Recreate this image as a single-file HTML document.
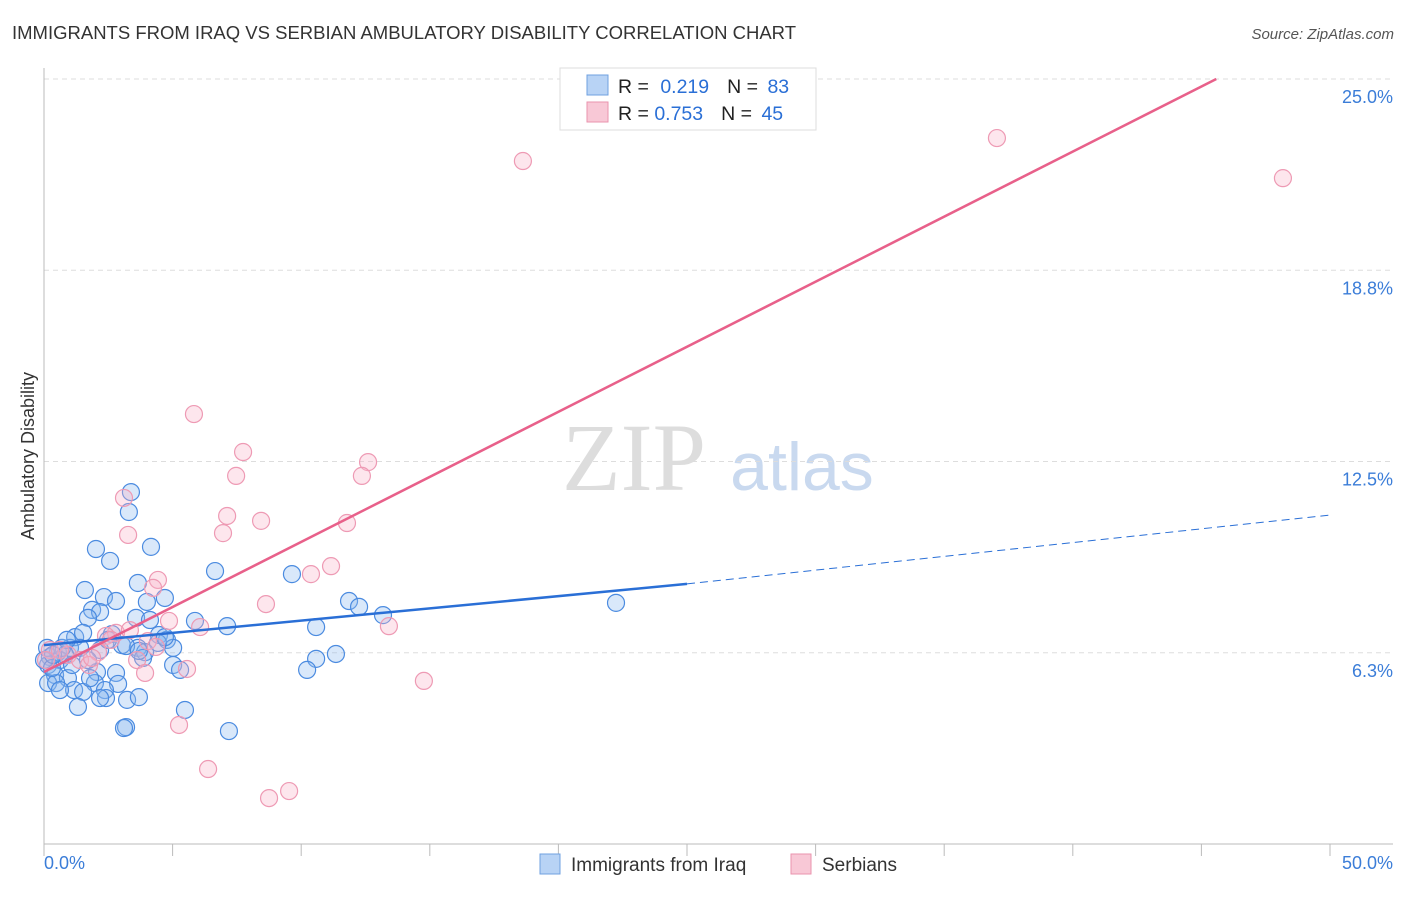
<!DOCTYPE html>
<html><head><meta charset="utf-8"><style>
body{margin:0;background:#fff;font-family:"Liberation Sans",sans-serif}
svg text{font-family:"Liberation Sans",sans-serif}
</style></head><body>
<svg id="chart" width="1406" height="892" viewBox="0 0 1406 892">
<text x="12" y="39" font-size="18.5" fill="#333">IMMIGRANTS FROM IRAQ VS SERBIAN AMBULATORY DISABILITY CORRELATION CHART</text>
<text x="1394" y="39" font-size="15" fill="#555" font-style="italic" text-anchor="end">Source: ZipAtlas.com</text>
<g>
<text x="634" y="490" font-size="96" fill="#ddd" text-anchor="middle" font-family="Liberation Serif" style="font-family:'Liberation Serif',serif">ZIP</text>
<text x="802" y="490" font-size="68" fill="#c9d9ef" text-anchor="middle">atlas</text>
</g>
<g id="grid"></g>
<g id="axes"></g>
<g id="points"></g>
<g id="lines"></g>
<text transform="translate(34,456) rotate(-90)" font-size="18" fill="#333" text-anchor="middle">Ambulatory Disability</text>
<g>
<rect x="560" y="68" width="256" height="62" fill="#fff" stroke="#ddd"/>
<rect x="587" y="75" width="21" height="20" fill="#b8d3f5" stroke="#6fa0e0"/>
<rect x="587" y="102" width="21" height="20" fill="#f8c8d6" stroke="#ea93ae"/>
<text x="618" y="93" font-size="19.5" fill="#222">R = <tspan fill="#2a6fd6" dx="6">0.219</tspan><tspan dx="18" fill="#222">N = </tspan><tspan fill="#2a6fd6" dx="4">83</tspan></text>
<text x="618" y="120" font-size="19.5" fill="#222">R = <tspan fill="#2a6fd6">0.753</tspan><tspan dx="18" fill="#222">N = </tspan><tspan fill="#2a6fd6" dx="4">45</tspan></text>
</g>
<g>
<rect x="540" y="854" width="20" height="20" fill="#b8d3f5" stroke="#6fa0e0"/>
<text x="571" y="871" font-size="19" fill="#333">Immigrants from Iraq</text>
<rect x="791" y="854" width="20" height="20" fill="#f8c8d6" stroke="#ea93ae"/>
<text x="822" y="871" font-size="19" fill="#333">Serbians</text>
</g>
</svg>
<script>
const xTickLabels=["0.0%","50.0%"];
const yTickValues=[25,18.75,12.5,6.25];
const yTickLabels=["25.0%","18.8%","12.5%","6.3%"];
const iraqX=[3.38,3.30,2.02,2.57,4.16,6.65,9.64,1.59,3.65,2.33,2.80,4.00,4.70,1.87,2.18,1.71,3.58,5.87,7.12,10.58,11.86,12.25,13.18,22.24,1.21,1.52,2.64,3.03,3.65,4.47,4.78,5.02,4.43,4.70,1.01,1.40,2.18,0.54,0.82,0.23,0.62,0.16,3.93,3.85,10.58,11.35,10.23,5.02,5.29,2.06,2.80,0.43,0.93,0.16,0.47,1.98,2.88,1.17,1.52,2.37,2.41,2.18,3.23,3.69,1.32,5.48,3.19,3.11,7.19,0.0,0.31,1.71,0.70,3.19,3.69,0.12,0.35,1.09,1.79,0.62,4.12,2.49,0.89];
const iraqY=[11.50,10.85,9.64,9.25,9.71,8.92,8.82,8.30,8.53,8.07,7.94,7.91,8.04,7.65,7.58,7.39,7.39,7.29,7.12,7.09,7.94,7.75,7.48,7.88,6.76,6.90,6.86,6.50,6.41,6.83,6.67,6.41,6.57,6.76,6.41,6.41,6.34,6.27,6.18,6.11,6.01,5.85,6.27,6.08,6.05,6.21,5.69,5.85,5.69,5.62,5.59,5.52,5.42,5.26,5.26,5.26,5.23,5.03,4.97,5.03,4.77,4.77,4.71,4.80,4.48,4.38,3.82,3.79,3.69,6.01,5.75,6.01,6.41,6.47,6.31,6.41,6.18,5.85,5.42,5.03,7.32,6.67,6.67];
const serbX=[18.62,37.05,48.17,26.13,5.83,7.74,7.47,12.60,12.36,3.11,7.12,8.44,3.27,6.96,11.78,4.43,4.24,11.16,10.38,8.63,4.86,6.07,13.41,2.80,3.34,4.04,4.35,2.10,3.62,5.56,3.93,0.93,1.40,0.23,0.62,1.75,14.77,5.25,6.38,8.75,9.53,2.41,2.60,1.87,0.08];
const serbY=[22.32,23.07,21.76,24.67,14.05,12.81,12.03,12.48,12.03,11.31,10.72,10.56,10.10,10.16,10.49,8.63,8.37,9.08,8.82,7.84,7.29,7.09,7.12,6.90,6.99,6.63,6.44,6.27,6.01,5.72,5.59,6.18,6.01,6.34,6.34,5.85,5.33,3.89,2.45,1.50,1.73,6.80,6.67,6.08,6.01];
const iraqTrend=[6.5,8.5,10.75]; // at x=0, 25, 50
const serbTrend=[5.62,26.88]; // at x=0, 50
const X0=44,X1=1330,Y0=844,PXY=30.6;
const sx=v=>X0+(X1-X0)*v/50;
const sy=v=>Y0-v*PXY;
const NS="http://www.w3.org/2000/svg";
function mk(tag,attrs,parent){const e=document.createElementNS(NS,tag);for(const k in attrs)e.setAttribute(k,attrs[k]);parent.appendChild(e);return e;}
const grid=document.getElementById('grid'),axes=document.getElementById('axes');
yTickValues.forEach((v,i)=>{
 const l=mk('line',{x1:X0,x2:1393,y1:sy(v),y2:sy(v),stroke:'#ddd','stroke-dasharray':'5,4'},grid);
 
 
 const t=mk('text',{x:1393,y:sy(v)+24,'font-size':18,fill:'#3b7dd8','text-anchor':'end'},axes);
 t.textContent=yTickLabels[i];
 
 
});
const ya=mk('line',{x1:X0,x2:X0,y1:68,y2:Y0,stroke:'#bbb'},axes);


const xa=mk('line',{x1:X0,x2:1393,y1:Y0,y2:Y0,stroke:'#bbb'},axes);


for(let i=0;i<=10;i++){const t=mk('line',{x1:sx(i*5),x2:sx(i*5),y1:Y0,y2:Y0+12,stroke:'#bbb'},axes);
 
 }
[[0,'start',44],[50,'end',1393]].forEach((d,i)=>{const t=mk('text',{x:d[2],y:869,'font-size':18,fill:'#3b7dd8','text-anchor':d[1]},axes);t.textContent=xTickLabels[i];
 
 });
const pts=document.getElementById('points');
iraqX.forEach((x,i)=>{const c=mk('circle',{cx:sx(x),cy:sy(iraqY[i]),r:8.5,fill:'rgba(140,185,240,0.33)',stroke:'#4b8be0','stroke-width':1.2},pts);
 
 });
serbX.forEach((x,i)=>{const c=mk('circle',{cx:sx(x),cy:sy(serbY[i]),r:8.5,fill:'rgba(248,180,200,0.33)',stroke:'#ee9ab4','stroke-width':1.2},pts);
 
 });
const lines=document.getElementById('lines');
const b1=mk('line',{x1:sx(0),y1:sy(iraqTrend[0]),x2:sx(25),y2:sy(iraqTrend[1]),stroke:'#2a6fd6','stroke-width':2.5},lines);


const b2=mk('line',{x1:sx(25),y1:sy(iraqTrend[1]),x2:sx(50),y2:sy(iraqTrend[2]),stroke:'#2a6fd6','stroke-width':1,'stroke-dasharray':'8,5'},lines);


const slope=(serbTrend[1]-serbTrend[0])/50;
const xEnd=Math.min(50,(25-serbTrend[0])/slope);
const p1=mk('line',{x1:sx(0),y1:sy(serbTrend[0]),x2:sx(xEnd),y2:sy(serbTrend[0]+slope*xEnd),stroke:'#e8608a','stroke-width':2.5},lines);


</script>
</body></html>
